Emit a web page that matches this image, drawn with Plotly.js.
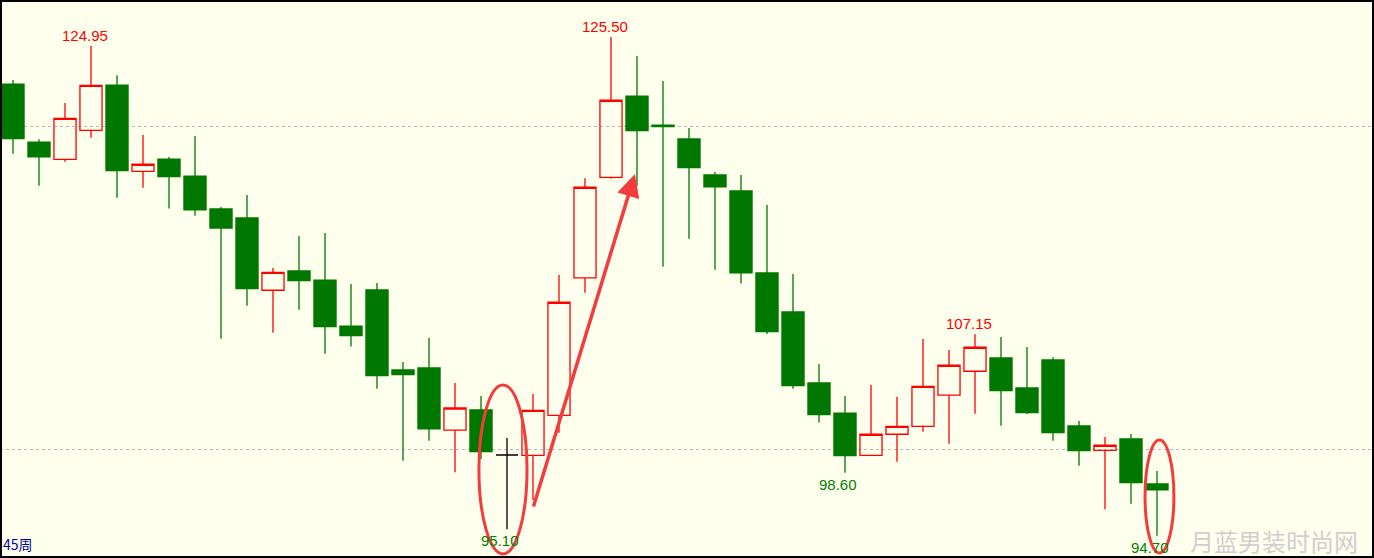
<!DOCTYPE html>
<html>
<head>
<meta charset="utf-8">
<script src="https://cdn.plot.ly/plotly-3.0.1.min.js"></script>
<style>html,body{margin:0;padding:0;background:#FFFFEE;}#chart{width:1374px;height:558px;}</style>
</head>
<body>
<div id="chart"></div>
<script>
// Weekly candles (45 weeks)
const openVals  = [122.59,119.01,117.94,119.73,122.53,117.20,117.96,116.91,114.88,114.32,109.86,111.05,110.49,107.65,109.88,104.94,105.06,101.22,102.47,99.69,99.67,102.14,110.62,116.83,121.85,120.06,119.20,116.98,115.99,110.93,108.52,104.14,102.28,99.67,100.97,101.46,103.38,104.86,105.68,103.83,105.56,101.48,99.98,100.68,97.90];
const highVals  = [122.84,119.18,121.42,124.95,123.13,119.44,118.09,119.38,115.00,115.74,111.23,113.21,113.40,110.25,110.31,105.43,106.91,104.14,103.33,100.74,103.46,110.80,116.77,125.50,124.32,122.78,119.88,117.16,116.98,115.12,110.86,105.31,103.33,104.01,103.27,106.85,106.17,107.15,106.98,106.36,105.72,101.79,100.80,100.99,98.70];
const lowVals   = [118.29,116.31,117.80,119.28,115.57,116.19,114.90,114.46,106.87,108.91,107.24,108.66,105.94,106.38,103.78,99.34,100.57,98.62,99.44,95.10,96.91,101.07,109.71,116.75,116.31,111.31,113.04,111.13,110.27,107.16,103.78,101.69,98.60,99.62,99.28,101.13,100.39,102.24,101.50,102.22,100.57,99.03,96.34,96.68,94.70];
const closeVals = [119.22,118.10,120.47,122.51,117.24,117.64,116.87,114.83,113.70,109.96,110.97,110.45,107.61,107.06,104.59,104.65,101.31,102.59,99.90,99.69,102.45,109.12,116.22,121.59,119.71,119.96,117.43,116.25,110.94,107.30,103.97,102.18,99.65,100.97,101.46,103.93,105.23,106.34,103.66,102.31,101.07,99.96,100.29,97.98,97.53];

// labelled extremes: candle indices
const highLabelIdx = [3, 23, 37];
const lowLabelIdx  = [19, 32, 44];
const periodLabel = '45周';
const watermark = '月蓝男装时尚网';

const weeks = openVals.map((_, i) => i);
const normal = weeks.filter(i => openVals[i] !== closeVals[i]);
const doji = weeks.filter(i => openVals[i] === closeVals[i]);
const pick = (arr, idx) => idx.map(i => arr[i]);

const RED = '#FF0000', GREEN = '#007800', BG = '#FFFFEE';

const traces = [
  {
    type: 'candlestick',
    x: normal, open: pick(openVals, normal), high: pick(highVals, normal),
    low: pick(lowVals, normal), close: pick(closeVals, normal),
    increasing: {line: {color: RED, width: 1.3}, fillcolor: 'rgba(0,0,0,0)'},
    decreasing: {line: {color: GREEN, width: 1.3}, fillcolor: GREEN},
    whiskerwidth: 0, hoverinfo: 'skip'
  },
  {
    type: 'candlestick',
    x: doji, open: pick(openVals, doji), high: pick(highVals, doji),
    low: pick(lowVals, doji), close: pick(closeVals, doji),
    increasing: {line: {color: '#000000', width: 1.3}, fillcolor: '#000000'},
    decreasing: {line: {color: '#000000', width: 1.3}, fillcolor: '#000000'},
    whiskerwidth: 0, hoverinfo: 'skip'
  }
];

const labelFont = (c) => ({family: 'Liberation Sans, Arial, sans-serif', size: 15, color: c});
const annotations = [];
highLabelIdx.forEach(i => annotations.push({
  x: i, y: highVals[i], xref: 'x', yref: 'y', text: highVals[i].toFixed(2),
  showarrow: false, yanchor: 'bottom', xanchor: 'center', xshift: -6, yshift: 0,
  font: labelFont('#FF0000')
}));
lowLabelIdx.forEach(i => annotations.push({
  x: i, y: lowVals[i], xref: 'x', yref: 'y', text: lowVals[i].toFixed(2),
  showarrow: false, yanchor: 'top', xanchor: 'center', xshift: -7, yshift: -1,
  font: labelFont('#008000')
}));
// hand-drawn arrow from the 95.10 low towards the 125.50 high
annotations.push({
  x: 23.92, y: 117.04, ax: 20.0, ay: 96.42, xref: 'x', yref: 'y', axref: 'x', ayref: 'y',
  text: '', showarrow: true, arrowhead: 2, arrowsize: 1.3, arrowwidth: 3.5, arrowcolor: '#F43C3C', standoff: 0
});
annotations.push({
  x: 0, y: 0, xref: 'paper', yref: 'paper', text: periodLabel, showarrow: false,
  xanchor: 'left', yanchor: 'bottom', xshift: 1, yshift: 2,
  font: {family: 'Noto Sans CJK SC, sans-serif', size: 14, color: '#0000A0'}
});
annotations.push({
  x: 1, y: 0, xref: 'paper', yref: 'paper', text: watermark, showarrow: false,
  xanchor: 'right', yanchor: 'bottom', xshift: -14, yshift: -2,
  font: {family: 'Noto Sans CJK SC, sans-serif', size: 24, color: '#CFCFCF'}
});

const layout = {
  width: 1374, height: 558,
  margin: {l: 0, r: 0, t: 0, b: 0},
  paper_bgcolor: BG, plot_bgcolor: BG,
  showlegend: false,
  boxgap: 0.15, boxgroupgap: 0,
  xaxis: {range: [-0.5, 52.346], showgrid: false, zeroline: false, showticklabels: false,
          ticks: '', rangeslider: {visible: false}, fixedrange: true},
  yaxis: {range: [93.33, 127.78], tickvals: [100, 120], showticklabels: false, ticks: '',
          showgrid: true, gridcolor: '#B8B8C0', griddash: 'dot', gridwidth: 1, zeroline: false, fixedrange: true},
  shapes: [
    {type: 'circle', xref: 'x', yref: 'y', x0: 17.92, x1: 19.77, y0: 93.58, y1: 104.01,
     line: {color: '#F43C3C', width: 3}},
    {type: 'circle', xref: 'x', yref: 'y', x0: 43.54, x1: 44.65, y0: 93.64, y1: 100.62,
     line: {color: '#F43C3C', width: 3}},
    {type: 'rect', xref: 'paper', yref: 'paper', x0: 0, x1: 1, y0: 0, y1: 1,
     line: {color: '#000000', width: 4}}
  ],
  annotations: annotations
};

Plotly.newPlot('chart', traces, layout, {staticPlot: true, displayModeBar: false});
</script>
</body>
</html>
